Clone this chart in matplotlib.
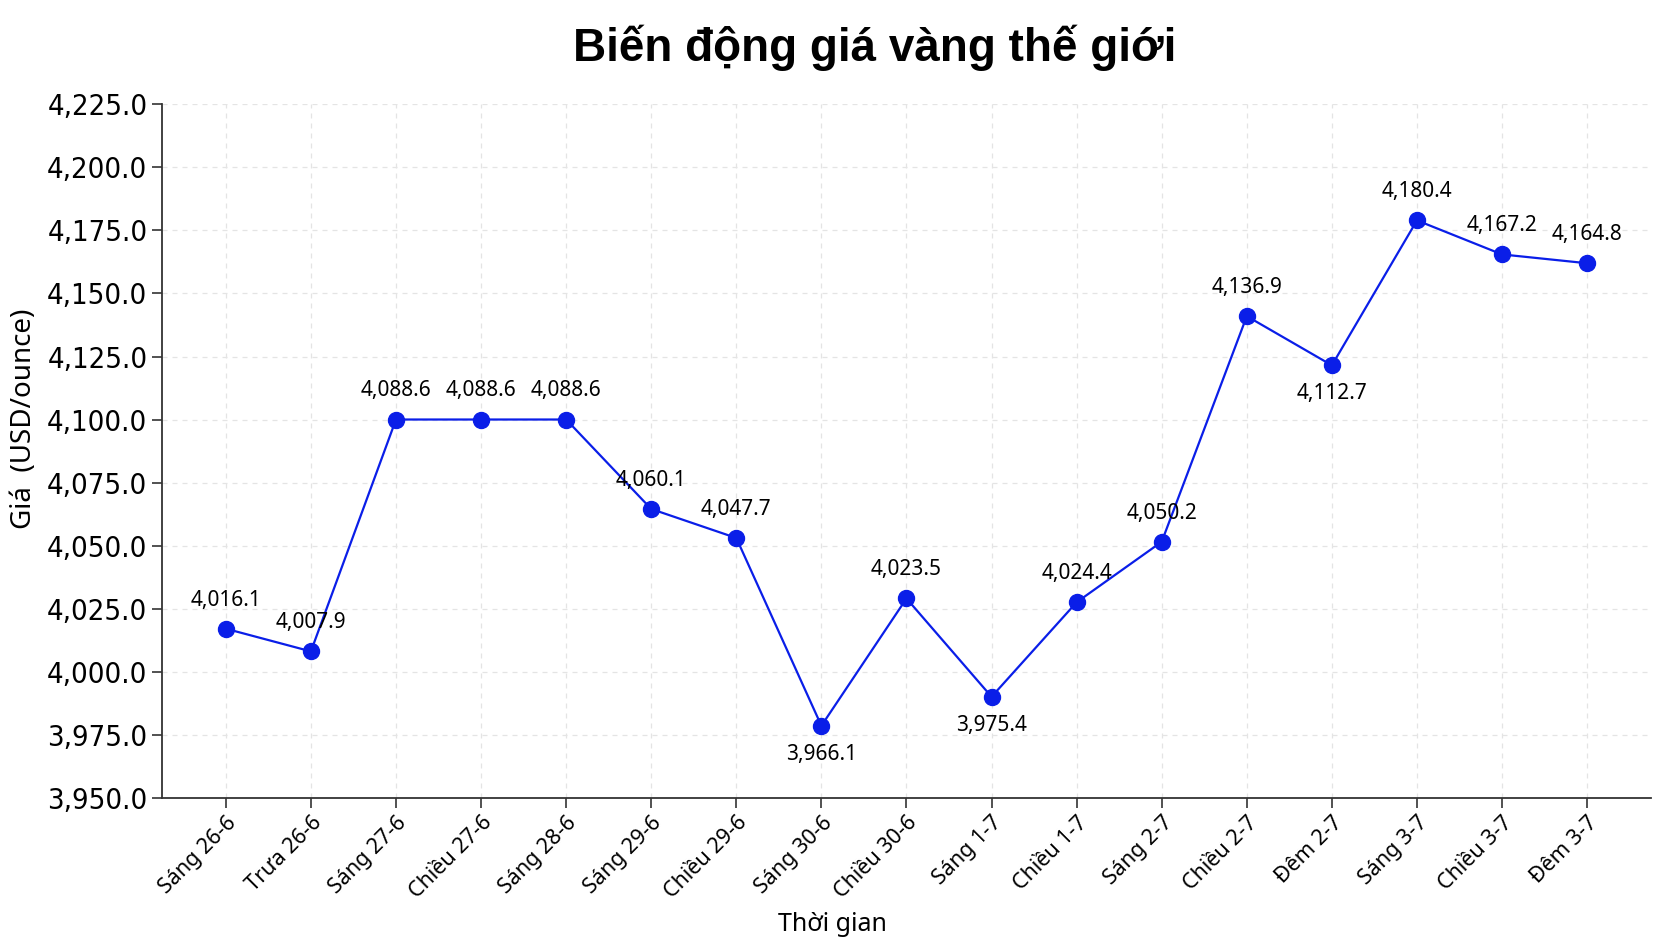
import matplotlib
matplotlib.use("Agg")
import matplotlib.pyplot as plt
from matplotlib.ticker import FuncFormatter

# thoi diem, gia (doc tu vi tri diem tren hinh) va nhan so lieu
thoi_diem = ["Sáng 26-6", "Trưa 26-6", "Sáng 27-6", "Chiều 27-6", "Sáng 28-6",
             "Sáng 29-6", "Chiều 29-6", "Sáng 30-6", "Chiều 30-6", "Sáng 1-7",
             "Chiều 1-7", "Sáng 2-7", "Chiều 2-7", "Đêm 2-7", "Sáng 3-7",
             "Chiều 3-7", "Đêm 3-7"]
gia = [4017.0, 4008.0, 4100.0, 4100.0, 4100.0, 4064.5, 4053.0, 3978.5, 4029.0,
       3990.0, 4027.5, 4051.5, 4141.0, 4121.5, 4179.0, 4165.5, 4162.0]
nhan = ["4,016.1", "4,007.9", "4,088.6", "4,088.6", "4,088.6", "4,060.1",
        "4,047.7", "3,966.1", "4,023.5", "3,975.4", "4,024.4", "4,050.2",
        "4,136.9", "4,112.7", "4,180.4", "4,167.2", "4,164.8"]
nhan_duoi = [7, 9, 13]  # nhan dat ben duoi diem

y_min, y_max, y_buoc = 3950, 4225, 25

fig = plt.figure(figsize=(16.72, 9.41), dpi=100)
ax = fig.add_axes([0.0969, 0.1524, 0.8905, 0.7366])

x = list(range(len(gia)))
ax.plot(x, gia, color="#0a1ee8", lw=1.6, marker="o", ms=11.5, zorder=3)

for i, (v, t) in enumerate(zip(gia, nhan)):
    if i in nhan_duoi:
        ax.annotate(t, (i, v), xytext=(0, -13), textcoords="offset points",
                    ha="center", va="top", fontsize=15, family="Noto Sans")
    else:
        ax.annotate(t, (i, v), xytext=(0, 13), textcoords="offset points",
                    ha="center", va="bottom", fontsize=15, family="Noto Sans")

ax.set_xlim(-0.75, len(gia) - 0.25)
ax.set_ylim(y_min, y_max)
ax.set_yticks(range(y_min, y_max + 1, y_buoc))
ax.yaxis.set_major_formatter(FuncFormatter(lambda v, p: f"{v:,.1f}"))
for lb in ax.get_yticklabels():
    lb.set_family("DejaVu Sans")
    lb.set_fontstretch("condensed")
    lb.set_fontsize(21)

ax.set_xticks(x)
ax.set_xticklabels(thoi_diem, rotation=45, ha="right", rotation_mode="anchor",
                   fontsize=15.5, family="Noto Sans")

ax.grid(True, ls=(0, (4, 4)), color="#e4e4e4", lw=0.9)
ax.set_axisbelow(True)
for s in ["top", "right"]:
    ax.spines[s].set_visible(False)
for s in ["left", "bottom"]:
    ax.spines[s].set_color("#333333")
    ax.spines[s].set_linewidth(1.3)
ax.tick_params(length=7, width=1.2, color="#333333")

ax.set_xlabel("Thời gian", fontsize=18, family="Noto Sans")
ax.xaxis.set_label_coords(0.45, -0.165)
ax.set_ylabel("Giá  (USD/ounce)", fontsize=20, family="Noto Sans")
ax.yaxis.set_label_coords(-0.083, 0.546)

fig.text(0.523, 0.949, "Biến động giá vàng thế giới", ha="center", va="center",
         fontsize=33, fontweight="bold", family="Liberation Sans")

fig.savefig("out.png")
